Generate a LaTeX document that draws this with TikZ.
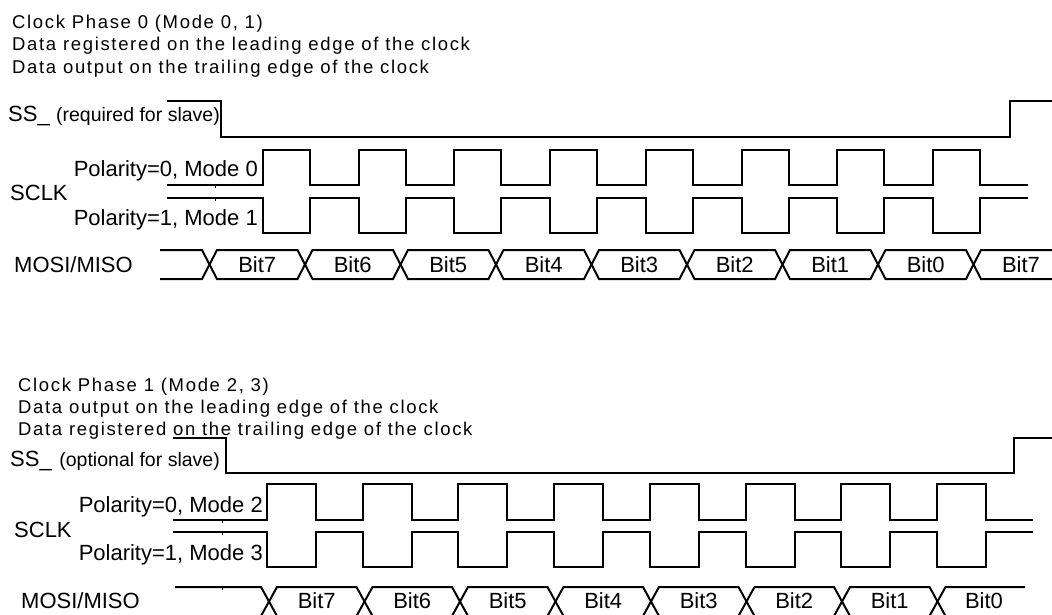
\documentclass[tikz,border=0pt]{standalone}
\usepackage{fontspec}
\setmainfont{Liberation Sans}
\newfontfamily\titlefont{Liberation Sans}[LetterSpace=9]
\begin{document}
\begin{tikzpicture}[x=1pt,y=-1pt,
  sig/.style={line width=2pt, line join=miter},
  tick/.style={line width=1pt},
  lbl/.style={inner sep=0pt, font=\fontsize{22}{26}\selectfont},
  ttl/.style={inner sep=0pt, anchor=base west, font=\titlefont\fontsize{18.5}{22}\selectfont},
  note/.style={inner sep=0pt, anchor=base east, font=\fontsize{19.5}{22}\selectfont}]
\useasboundingbox (0,0) rectangle (1052,615);

% ---------- Clock phase 0 ----------
\node[ttl] (t1) at (12,28.5) {Clock Phase 0 (Mode 0, 1)};
\node[ttl] (t2) at (12,51) {Data registered on the leading edge of the clock};
\node[ttl] (t3) at (12,73.5) {Data output on the trailing edge of the clock};

\node[lbl, anchor=base west] (ssA) at (8,121.7) {SS\_};
\node[note] (ssAn) at (220,121.7) {(required for slave)};
\draw[sig] (167,101) -- (221,101) -- (221,137) -- (1010,137) -- (1010,101) -- (1060,101);

\node[lbl, anchor=base east] (p0) at (258,176) {Polarity=0, Mode 0};
\node[lbl, anchor=base east] (p1) at (258,225) {Polarity=1, Mode 1};
\node[lbl, anchor=base west] (sclkA) at (10,200.7) {SCLK};
\draw[sig] (167,185) \foreach \k in {0,...,7}{ -- ({263+95.7*\k},185) -- ({263+95.7*\k},150) -- ({310+95.7*\k},150) -- ({310+95.7*\k},185)} -- (1028,185);
\draw[sig] (167,198) \foreach \k in {0,...,7}{ -- ({263+95.7*\k},198) -- ({263+95.7*\k},233) -- ({310+95.7*\k},233) -- ({310+95.7*\k},198)} -- (1028,198);
\draw[tick] (215,185) -- (215,187.5);
\draw[tick] (215,198) -- (215,200.5);

\node[lbl, anchor=base west] (mosiA) at (14,272.7) {MOSI/MISO};
\draw[sig] (160,250) -- (202,250) -- (209.5,264.5) -- (202,279) -- (160,279);
\foreach \k in {0,...,7}
  \draw[sig] ({209.5+95.5*\k},264.5) -- ({209.5+95.5*\k+7.5},250) -- ({209.5+95.5*(\k+1)-7.5},250)
    -- ({209.5+95.5*(\k+1)},264.5) -- ({209.5+95.5*(\k+1)-7.5},279) -- ({209.5+95.5*\k+7.5},279) -- cycle;
\draw[sig] (1060,250) -- (981,250) -- (973.5,264.5) -- (981,279) -- (1060,279);
\foreach \t [count=\i from 0] in {Bit7,Bit6,Bit5,Bit4,Bit3,Bit2,Bit1,Bit0}
  \node[lbl, anchor=base] (tb\i) at ({209.5+95.5*\i+47.75},272.5) {\t};
\node[lbl, anchor=base] (tb8) at (1021,272.5) {Bit7};

% ---------- Clock phase 1 ----------
\node[ttl] (u1) at (18,391) {Clock Phase 1 (Mode 2, 3)};
\node[ttl] (u2) at (18,413.5) {Data output on the leading edge of the clock};
\node[ttl] (u3) at (18,435) {Data registered on the trailing edge of the clock};

\node[lbl, anchor=base west] (ssB) at (10,466.7) {SS\_};
\node[note] (ssBn) at (220,466.7) {(optional for slave)};
\draw[sig] (173,437.5) -- (226,437.5) -- (226,473) -- (1014,473) -- (1014,437.5) -- (1060,437.5);

\node[lbl, anchor=base east] (p2) at (263,512.3) {Polarity=0, Mode 2};
\node[lbl, anchor=base east] (p3) at (263,560) {Polarity=1, Mode 3};
\node[lbl, anchor=base west] (sclkB) at (14,537.3) {SCLK};
\draw[sig] (173,520) \foreach \k in {0,...,7}{ -- ({267+95.7*\k},520) -- ({267+95.7*\k},484) -- ({316+95.7*\k},484) -- ({316+95.7*\k},520)} -- (1033,520);
\draw[sig] (173,532) \foreach \k in {0,...,7}{ -- ({267+95.7*\k},532) -- ({267+95.7*\k},567) -- ({316+95.7*\k},567) -- ({316+95.7*\k},532)} -- (1033,532);
\draw[tick] (222,520) -- (222,522.5);
\draw[tick] (222,532) -- (222,534.5);

\node[lbl, anchor=base west] (mosiB) at (21,608.3) {MOSI/MISO};
\draw[sig] (175,587) -- (261,587) -- (269,601.5) -- (261,616) -- (175,616);
\draw[tick] (222,587) -- (222,589.5);
\foreach \k in {0,...,6}
  \draw[sig] ({269+95.5*\k},601.5) -- ({269+95.5*\k+8},587) -- ({269+95.5*(\k+1)-8},587)
    -- ({269+95.5*(\k+1)},601.5) -- ({269+95.5*(\k+1)-8},616) -- ({269+95.5*\k+8},616) -- cycle;
\draw[sig] (1025,587) -- (945.5,587) -- (937.5,601.5) -- (945.5,616) -- (1025,616);
\foreach \t [count=\i from 0] in {Bit7,Bit6,Bit5,Bit4,Bit3,Bit2,Bit1}
  \node[lbl, anchor=base] (bb\i) at ({269+95.5*\i+47.75},608.3) {\t};
\node[lbl, anchor=base] (bb7) at (984,608.3) {Bit0};
\end{tikzpicture}
\end{document}
